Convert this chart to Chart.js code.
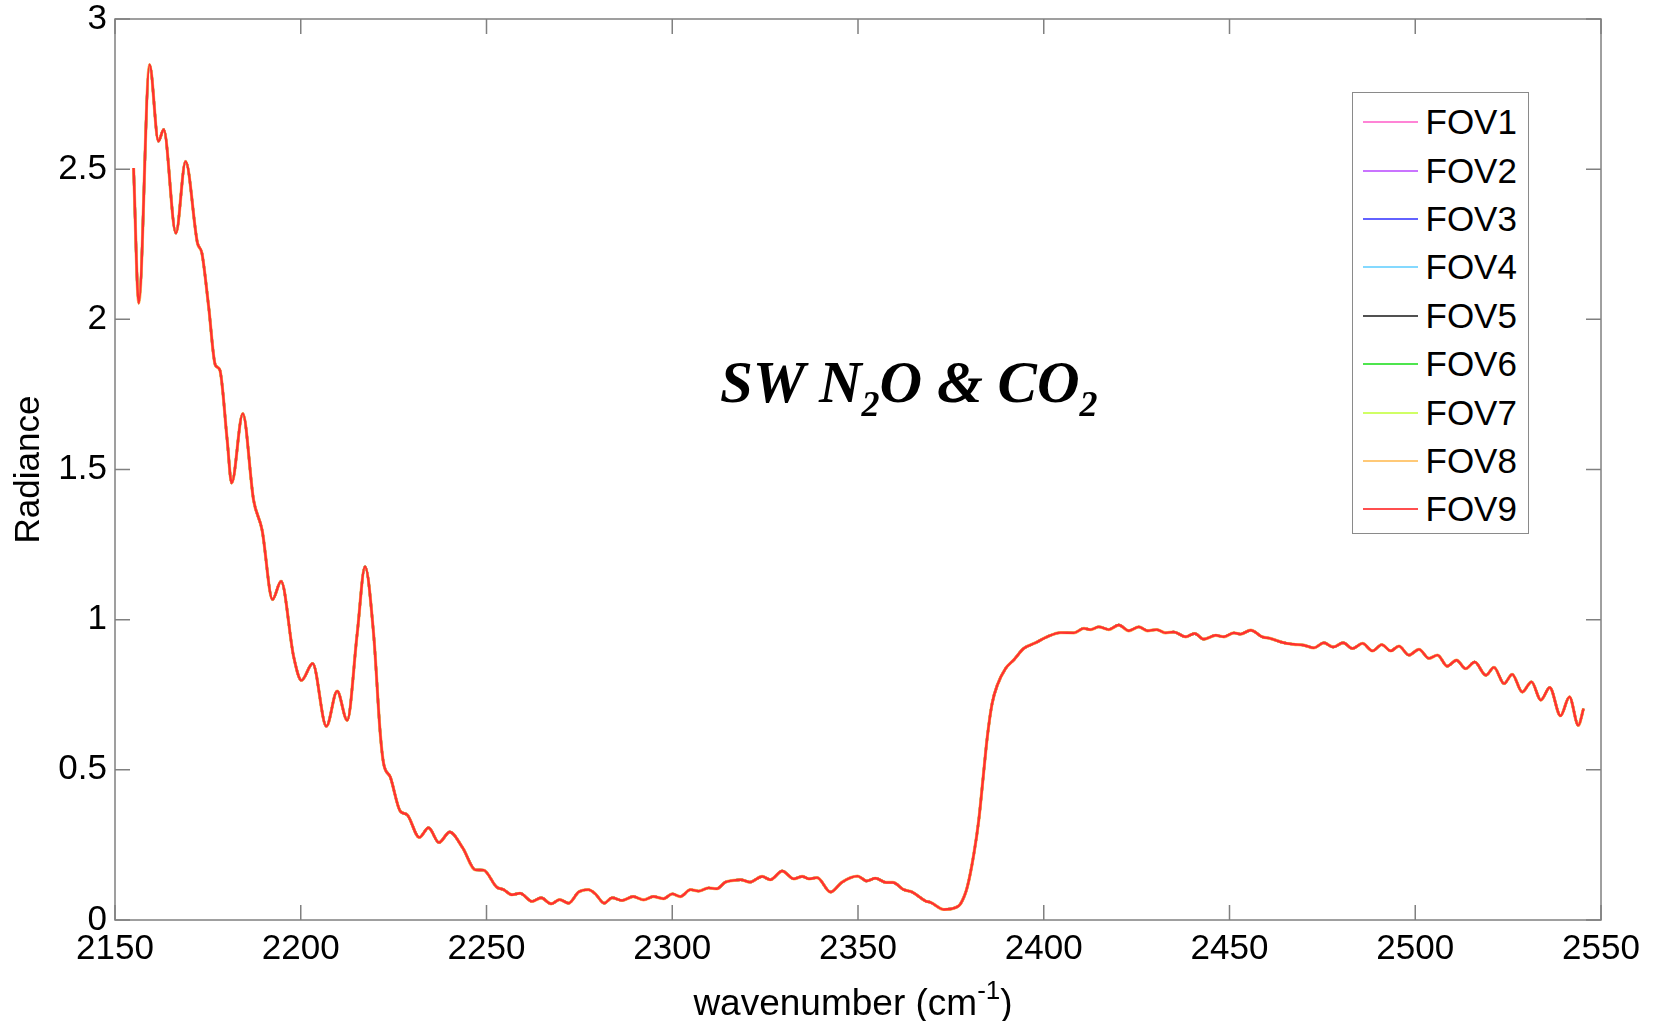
<!DOCTYPE html>
<html>
<head>
<meta charset="utf-8">
<script src="https://cdn.jsdelivr.net/npm/chart.js@4.4.1/dist/chart.umd.min.js"></script>
<style>
    html, body { margin: 0; padding: 0; background: #fff; }
    #wrap { position: relative; width: 1657px; height: 1021px; }
    #wrap canvas { position: absolute; left: 0; top: 0; }
    .etiqueta { position: absolute; color: #000; white-space: nowrap; }
    #gas {
        left: 720px; top: 353px;
        font: italic bold 59px 'Liberation Serif', 'Times New Roman', serif;
        line-height: 1;
    }
    #gas sub { font-size: 36px; vertical-align: -14px; line-height: 0; }
    #ejeX {
        left: 553px; top: 984px; width: 600px; text-align: center;
        font: 37px 'Liberation Sans', Arial, Helvetica, sans-serif;
        line-height: 1;
    }
    #ejeX sup { font-size: 26px; vertical-align: 16px; line-height: 0; }
    #leyenda {
        position: absolute; left: 1352px; top: 92px; width: 177px; height: 442px;
        box-sizing: border-box; border: 1.5px solid #8a8a8a; background: #fff;
        padding-top: 5px;
    }
    .fila { display: flex; align-items: center; height: 48.4px; }
    .fila .linea { width: 55px; height: 2px; margin-left: 9.5px; opacity: 0.85; }
    .fila .nombre {
        margin-left: 8px; line-height: 1;
        font: 35px 'Liberation Sans', Arial, Helvetica, sans-serif;
    }
</style>
</head>
<body>
<div id="wrap">
    <canvas id="myChart" width="1657" height="1021"></canvas>
    <div class="etiqueta" id="gas">SW N<sub>2</sub>O &amp; CO<sub>2</sub></div>
    <div class="etiqueta" id="ejeX">wavenumber (cm<sup>-1</sup>)</div>
    <div id="leyenda"></div>
</div>
<script>
// spectrum read at the turning points, cm-1 / radiance
const wavenumber = [
    2155.0, 2156.4, 2159.3, 2161.7, 2163.1, 2166.4, 2169.0, 2172.2, 2173.4, 2175.2,
    2177.0, 2178.2, 2180.2, 2181.4, 2184.4, 2187.3, 2189.6, 2192.4, 2194.7, 2198.1,
    2200.2, 2203.2, 2206.9, 2209.8, 2212.5, 2215.2, 2217.3, 2219.6, 2221.4, 2222.3,
    2224.1, 2226.8, 2228.6, 2231.9, 2234.4, 2237.2, 2240.1, 2243.6, 2247.0, 2249.2,
    2252.7, 2254.6, 2256.9, 2259.0, 2262.3, 2264.7, 2267.4, 2269.7, 2272.1, 2274.8,
    2277.4, 2279.3, 2281.7, 2283.8, 2286.5, 2289.5, 2292.3, 2294.9, 2297.7, 2300.0,
    2302.2, 2304.9, 2307.1, 2309.8, 2311.9, 2314.3, 2316.6, 2318.4, 2320.9, 2324.2,
    2326.4, 2329.6, 2332.7, 2335.0, 2336.8, 2339.0, 2342.6, 2345.7, 2349.9, 2352.3,
    2354.7, 2357.6, 2359.4, 2362.3, 2364.6, 2368.2, 2369.5, 2373.1, 2376.2, 2377.6,
    2379.4, 2381.2, 2382.5, 2383.7, 2384.8, 2386.1, 2387.5, 2389.7, 2392.0, 2394.6,
    2397.8, 2400.9, 2404.6, 2408.1, 2410.8, 2412.6, 2414.8, 2417.5, 2420.2, 2422.9,
    2425.6, 2427.9, 2430.4, 2432.8, 2435.0, 2438.2, 2440.6, 2443.1, 2446.3, 2448.5,
    2451.2, 2453.0, 2455.7, 2458.8, 2461.1, 2464.6, 2467.3, 2470.0, 2472.7, 2475.4,
    2477.9, 2480.6, 2483.1, 2485.8, 2488.5, 2491.0, 2493.4, 2495.6, 2498.3, 2501.0,
    2503.7, 2506.0, 2508.6, 2511.1, 2513.6, 2516.0, 2519.0, 2521.2, 2523.9, 2526.1,
    2528.8, 2531.3, 2533.8, 2536.2, 2539.1, 2541.5, 2543.9, 2545.3
];
const radiance = [
    2.504, 2.054, 2.848, 2.593, 2.632, 2.287, 2.526, 2.254, 2.220, 2.043,
    1.848, 1.832, 1.598, 1.455, 1.686, 1.398, 1.298, 1.067, 1.128, 0.876,
    0.798, 0.854, 0.645, 0.762, 0.665, 0.954, 1.176, 0.954, 0.621, 0.521,
    0.476, 0.362, 0.351, 0.275, 0.307, 0.258, 0.293, 0.240, 0.167, 0.166,
    0.110, 0.101, 0.084, 0.089, 0.062, 0.074, 0.054, 0.068, 0.056, 0.093,
    0.101, 0.087, 0.056, 0.074, 0.065, 0.078, 0.067, 0.078, 0.071, 0.087,
    0.078, 0.101, 0.096, 0.107, 0.104, 0.126, 0.132, 0.134, 0.126, 0.145,
    0.134, 0.163, 0.137, 0.145, 0.137, 0.141, 0.093, 0.126, 0.146, 0.130,
    0.139, 0.125, 0.125, 0.101, 0.093, 0.063, 0.059, 0.035, 0.041, 0.054,
    0.109, 0.221, 0.332, 0.476, 0.609, 0.721, 0.782, 0.837, 0.867, 0.904,
    0.923, 0.943, 0.957, 0.956, 0.971, 0.967, 0.976, 0.967, 0.982, 0.963,
    0.976, 0.963, 0.967, 0.956, 0.959, 0.943, 0.954, 0.935, 0.948, 0.943,
    0.956, 0.952, 0.965, 0.943, 0.937, 0.923, 0.918, 0.915, 0.906, 0.923,
    0.909, 0.923, 0.904, 0.921, 0.896, 0.917, 0.896, 0.912, 0.882, 0.901,
    0.871, 0.882, 0.845, 0.865, 0.837, 0.859, 0.815, 0.841, 0.787, 0.818,
    0.759, 0.793, 0.732, 0.774, 0.680, 0.743, 0.648, 0.704
];

const fovNames = ['FOV1', 'FOV2', 'FOV3', 'FOV4', 'FOV5', 'FOV6', 'FOV7', 'FOV8', 'FOV9'];
const fovColors = ['#ff6fcf', '#c15cff', '#4646ff', '#6fd2ff', '#333333',
                   '#2fe02f', '#c8ff4a', '#ffbf5f', '#ff3030'];

const xTicks = [2150, 2200, 2250, 2300, 2350, 2400, 2450, 2500, 2550];
const yTicks = [0, 0.5, 1, 1.5, 2, 2.5, 3];

const fuente = "'Liberation Sans', Arial, Helvetica, sans-serif";
const gris = '#808080';

function armarSerie() {
    const puntos = [];
    for (let i = 0; i < wavenumber.length; i++) {
        puntos.push({ x: wavenumber[i], y: radiance[i] });
    }
    return puntos;
}

// every FOV sits on the same curve; the last one is painted on top
const datasets = fovNames.map((nombre, i) => ({
    label: nombre,
    data: armarSerie(),
    borderColor: fovColors[i],
    borderWidth: i === 7 ? 3.2 : 2.4,
    pointRadius: 0,
    cubicInterpolationMode: 'monotone',
    fill: false,
    order: fovNames.length - i
}));

// box round the plot with the ticks pointing inwards on all four sides
const marcoEjes = {
    id: 'marcoEjes',
    afterDatasetsDraw(chart) {
        const { ctx, chartArea: { left, right, top, bottom }, scales: { x, y } } = chart;
        const largo = 15;
        ctx.save();
        ctx.strokeStyle = gris;
        ctx.lineWidth = 1.5;
        ctx.strokeRect(left, top, right - left, bottom - top);
        ctx.beginPath();
        xTicks.forEach(v => {
            const px = x.getPixelForValue(v);
            ctx.moveTo(px, bottom); ctx.lineTo(px, bottom - largo);
            ctx.moveTo(px, top); ctx.lineTo(px, top + largo);
        });
        yTicks.forEach(v => {
            const py = y.getPixelForValue(v);
            ctx.moveTo(left, py); ctx.lineTo(left + largo, py);
            ctx.moveTo(right, py); ctx.lineTo(right - largo, py);
        });
        ctx.stroke();
        ctx.restore();
    }
};

const config = {
    type: 'line',
    data: { datasets: datasets },
    options: {
        responsive: false,
        animation: false,
        layout: { padding: { top: 19, right: 56, bottom: 0, left: 0 } },
        plugins: {
            legend: { display: false },
            tooltip: { enabled: false }
        },
        scales: {
            x: {
                type: 'linear',
                min: 2150,
                max: 2550,
                afterFit: (s) => { s.height = 101; s.paddingLeft = 0; s.paddingRight = 0; },
                afterBuildTicks: (s) => { s.ticks = xTicks.map(v => ({ value: v })); },
                grid: { display: false, drawTicks: false },
                border: { display: false },
                ticks: {
                    autoSkip: false,
                    maxRotation: 0,
                    padding: 8,
                    color: '#000',
                    font: { family: fuente, size: 35 },
                    callback: (v) => String(v)
                }
            },
            y: {
                min: 0,
                max: 3,
                afterFit: (s) => { s.width = 115; s.paddingTop = 0; s.paddingBottom = 0; },
                afterBuildTicks: (s) => { s.ticks = yTicks.map(v => ({ value: v })); },
                grid: { display: false, drawTicks: false },
                border: { display: false },
                ticks: {
                    padding: 8,
                    color: '#000',
                    font: { family: fuente, size: 35 },
                    callback: (v) => String(v)
                },
                title: {
                    display: true,
                    text: 'Radiance',
                    color: '#000',
                    padding: { top: 8, bottom: 0 },
                    font: { family: fuente, size: 35 }
                }
            }
        }
    },
    plugins: [marcoEjes]
};

const myChart = new Chart(document.getElementById('myChart'), config);

// legend box built from the datasets
const leyenda = document.getElementById('leyenda');
leyenda.innerHTML = myChart.data.datasets.map(ds => `
    <div class="fila">
        <span class="linea" style="background:${ds.borderColor}"></span>
        <span class="nombre">${ds.label}</span>
    </div>`).join('');
</script>
</body>
</html>
